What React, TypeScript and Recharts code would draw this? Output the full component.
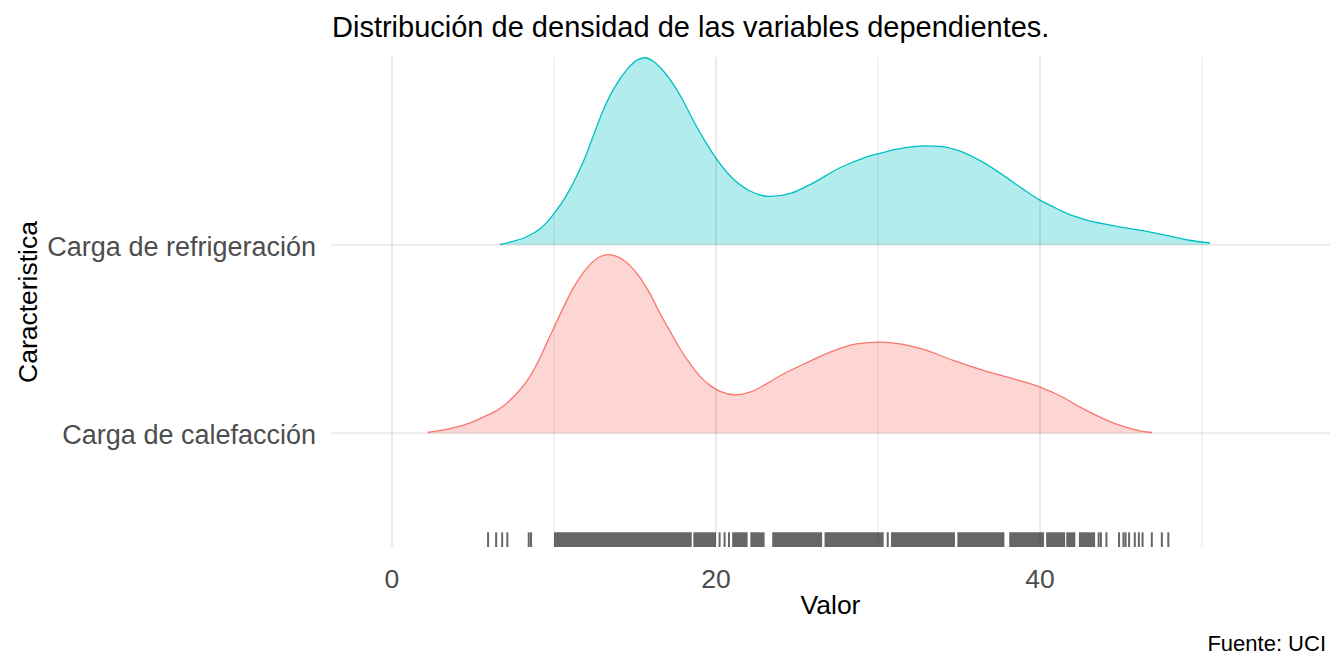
import React from 'react';
import {
  ComposedChart,
  Area,
  XAxis,
  YAxis,
  ReferenceArea,
  ReferenceLine,
} from 'recharts';

// ---- Data ----
const categorias = ['Carga de calefacción', 'Carga de refrigeración'];
const categoriaPos = [1, 2];
const xTicks = [0, 20, 40];
const xMinorTicks = [10, 30, 50];

// Carga de calefacción (heating load) density: x values and relative heights
const calefaccionX = [
  2.2, 3.58, 4.61, 5.64, 6.67, 7.49, 8.31, 8.93, 9.55, 10.02, 10.57, 11.09, 11.6, 12.22,
  12.84, 13.35, 13.87, 14.69, 15.3, 15.93, 16.54, 17.16, 17.78, 18.4, 19.0, 19.63, 20.25,
  21.2, 22.1, 23.13, 24.15, 25.4, 27.24, 28.68, 30.12, 31.36, 33.0, 34.65, 36.5, 38.35,
  40.0, 41.23, 42.47, 43.7, 44.94, 46.17, 46.9,
];
const calefaccionDens = [
  0.005, 0.025, 0.048, 0.086, 0.131, 0.192, 0.275, 0.365, 0.478, 0.565, 0.665, 0.755, 0.827,
  0.894, 0.936, 0.947, 0.938, 0.889, 0.827, 0.739, 0.636, 0.542, 0.448, 0.369, 0.303, 0.254,
  0.222, 0.204, 0.218, 0.263, 0.314, 0.366, 0.437, 0.474, 0.483, 0.474, 0.439, 0.386, 0.333,
  0.289, 0.245, 0.199, 0.139, 0.086, 0.042, 0.013, 0.004,
];

// Carga de refrigeración (cooling load) density
const refrigeracionX = [
  6.67, 7.39, 8.31, 9.14, 9.6, 10.0, 10.78, 11.5, 12.0, 12.5, 13.0, 13.46, 13.97, 14.5,
  15.1, 15.6, 16.1, 16.75, 17.37, 17.98, 18.6, 19.2, 19.9, 20.97, 22.06, 23.35, 24.65,
  25.95, 27.68, 29.19, 30.06, 31.35, 32.87, 33.95, 35.03, 36.33, 37.63, 38.92, 40.0, 40.87,
  41.73, 42.82, 44.33, 46.06, 47.79, 49.31, 50.5,
];
const refrigeracionDens = [
  0.0, 0.016, 0.042, 0.085, 0.122, 0.165, 0.263, 0.381, 0.48, 0.594, 0.705, 0.79, 0.866,
  0.928, 0.977, 0.991, 0.974, 0.921, 0.85, 0.762, 0.658, 0.566, 0.471, 0.356, 0.286, 0.256,
  0.273, 0.325, 0.409, 0.462, 0.483, 0.509, 0.524, 0.52, 0.497, 0.444, 0.374, 0.296, 0.236,
  0.198, 0.163, 0.132, 0.104, 0.078, 0.049, 0.022, 0.009,
];

// Rug: dense runs of observations (start, end) and isolated observations
const rugRuns: [number, number][] = [
  [10.0, 18.5], [18.6, 20.0], [21.0, 21.95], [22.12, 23.0], [23.47, 26.55], [26.7, 30.35],
  [30.8, 34.75], [34.9, 37.8], [38.1, 40.25], [40.38, 41.55], [41.62, 42.18], [42.4, 43.4],
];
const rugSingles = [
  5.93, 6.43, 6.8, 7.12, 8.44, 8.58, 20.22, 20.53, 20.8, 30.6, 43.62, 43.76, 44.1, 44.88,
  45.15, 45.28, 45.5, 45.85, 46.1, 46.33, 46.9, 47.52, 47.92,
];

// ---- Scales / layout ----
const X_DOMAIN: [number, number] = [-3.765, 57.9];
const Y_DOMAIN: [number, number] = [0.397, 2.995];
const RUG_TOP = Y_DOMAIN[0] + 0.03 * (Y_DOMAIN[1] - Y_DOMAIN[0]);

const FONT = '"Liberation Sans", Arial, Helvetica, sans-serif';
const COL_CAL = '#F8766D';
const COL_REF = '#00BFC4';
// grey92 gridline drawn as translucent black so it blends under/over the fills
const GRID_OPACITY = 0.078;

const calefaccionData = calefaccionX.map((x, i) => ({ x, y: 1 + calefaccionDens[i] }));
const refrigeracionData = refrigeracionX.map((x, i) => ({ x, y: 2 + refrigeracionDens[i] }));

const XTick = (props: any) => {
  const { x, payload } = props;
  return (
    <text x={x} y={588} textAnchor="middle" fill="#4D4D4D" fontSize={26.5} fontFamily={FONT}>
      {String(payload.value)}
    </text>
  );
};

const YTick = (props: any) => {
  const { y, payload } = props;
  const idx = categoriaPos.indexOf(Math.round(payload.value));
  const label = idx >= 0 ? categorias[idx] : '';
  return (
    <text x={316} y={y + 11} textAnchor="end" fill="#4D4D4D" fontSize={27} fontFamily={FONT}>
      {label}
    </text>
  );
};

export default function App() {
  return (
    <div
      style={{
        position: 'absolute',
        left: 0,
        top: 0,
        width: 1344,
        height: 672,
        background: '#ffffff',
        fontFamily: FONT,
      }}
    >
      <ComposedChart
        width={1344}
        height={672}
        margin={{ top: 57, right: 14, bottom: 0, left: 0 }}
      >
        <XAxis
          dataKey="x"
          type="number"
          domain={X_DOMAIN}
          allowDataOverflow
          ticks={xTicks}
          axisLine={false}
          tickLine={false}
          height={125}
          tick={<XTick />}
          interval={0}
        />
        <YAxis
          type="number"
          domain={Y_DOMAIN}
          allowDataOverflow
          ticks={categoriaPos}
          interval={0}
          axisLine={false}
          tickLine={false}
          width={331}
          tick={<YTick />}
        />
        {xMinorTicks.map((v) => (
          <ReferenceLine
            key={'minor' + v}
            x={v}
            stroke="#000000"
            strokeOpacity={GRID_OPACITY}
            strokeWidth={1.2}
          />
        ))}
        {xTicks.map((v) => (
          <ReferenceLine
            key={'major' + v}
            x={v}
            stroke="#000000"
            strokeOpacity={GRID_OPACITY}
            strokeWidth={2}
          />
        ))}
        {categoriaPos.map((v) => (
          <ReferenceLine
            key={'hmajor' + v}
            y={v}
            stroke="#000000"
            strokeOpacity={GRID_OPACITY}
            strokeWidth={2}
          />
        ))}
        <Area
          data={refrigeracionData}
          dataKey="y"
          type="monotone"
          baseValue={2}
          stroke={COL_REF}
          strokeWidth={1.3}
          fill={COL_REF}
          fillOpacity={0.3}
          isAnimationActive={false}
          dot={false}
          activeDot={false}
        />
        <Area
          data={calefaccionData}
          dataKey="y"
          type="monotone"
          baseValue={1}
          stroke={COL_CAL}
          strokeWidth={1.3}
          fill={COL_CAL}
          fillOpacity={0.3}
          isAnimationActive={false}
          dot={false}
          activeDot={false}
        />
        {rugRuns.map(([a, b], i) => (
          <ReferenceArea
            key={'run' + i}
            x1={a}
            x2={b}
            y1={Y_DOMAIN[0]}
            y2={RUG_TOP}
            fill="#666666"
            fillOpacity={1}
            stroke="none"
            ifOverflow="visible"
          />
        ))}
        {rugSingles.map((v, i) => (
          <ReferenceLine
            key={'tick' + i}
            segment={[
              { x: v, y: Y_DOMAIN[0] },
              { x: v, y: RUG_TOP },
            ]}
            stroke="#666666"
            strokeWidth={2}
            ifOverflow="visible"
          />
        ))}
      </ComposedChart>
      <svg
        width={1344}
        height={672}
        style={{ position: 'absolute', left: 0, top: 0, pointerEvents: 'none' }}
      >
        <text x={332} y={37} fontSize={29} fill="#000000" fontFamily={FONT}>
          Distribución de densidad de las variables dependientes.
        </text>
        <text x={830.5} y={614} fontSize={26.5} fill="#000000" textAnchor="middle" fontFamily={FONT}>
          Valor
        </text>
        <text
          x={0}
          y={0}
          fontSize={26.5}
          fill="#000000"
          textAnchor="middle"
          fontFamily={FONT}
          transform="translate(37,302) rotate(-90)"
        >
          Caracteristica
        </text>
        <text x={1326} y={651} fontSize={22} fill="#000000" textAnchor="end" fontFamily={FONT}>
          Fuente: UCI
        </text>
      </svg>
    </div>
  );
}
